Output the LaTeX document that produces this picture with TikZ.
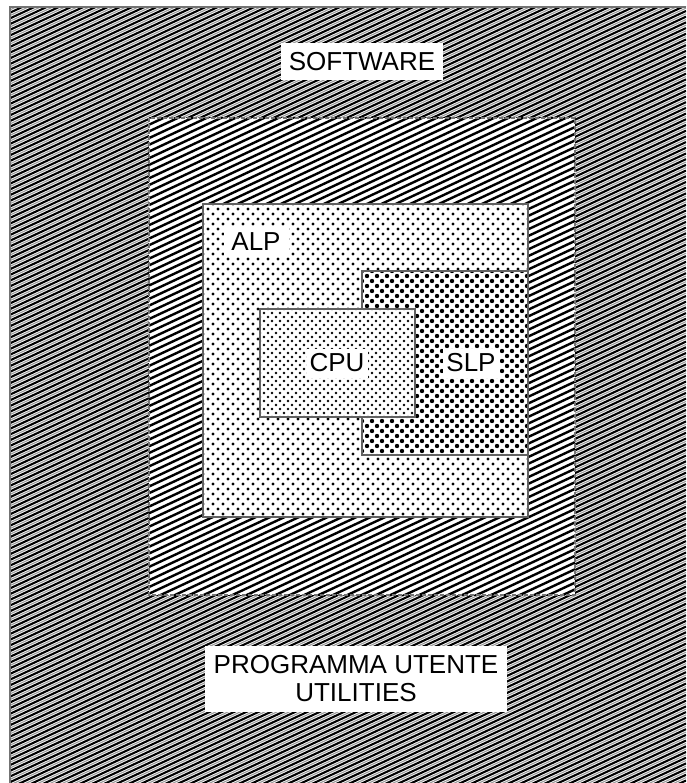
\documentclass[tikz,border=0pt]{standalone}
\usepackage{fontspec}
\setmainfont{Liberation Sans}
\tikzset{
  lbl/.style={fill=white, inner sep=0pt, font=\fontsize{26}{28}\selectfont, text=black},
  boxedge/.style={draw=black!62, line width=2.8pt},
}
% hatch field: x0,y0,x1,y1,vertical period,line width,colour,offset  (lines rising at 25 deg)
\newcommand\hatchfield[8]{%
  \begin{scope}
    \clip (#1,#2) rectangle (#3,#4);
    \pgfmathtruncatemacro\nh{(#4-#2+0.4663*(#3-#1))/#5+1}
    \foreach \i in {0,...,\nh} {
      \pgfmathsetmacro\hb{#2+#8+\i*#5}
      \draw[#7, line width=#6] (#1,\hb) -- (#3,\hb-0.4663*#3+0.4663*#1);
    }
  \end{scope}}
% dot field: x0,y0,x1,y1,in-row spacing,radius (45 deg halftone)
\newcommand\dotfield[6]{%
  \begin{scope}
    \clip (#1,#2) rectangle (#3,#4);
    \pgfmathtruncatemacro\nx{(#3-#1)/#5}
    \pgfmathtruncatemacro\ny{(#4-#2)/#5}
    \foreach \ii in {0,...,\nx} {
      \foreach \jj in {0,...,\ny} {
        \fill[black] ({#1+\ii*#5},{#2+\jj*#5}) circle (#6);
        \fill[black] ({#1+\ii*#5+#5/2},{#2+\jj*#5+#5/2}) circle (#6);
      }
    }
  \end{scope}}
\begin{document}
\begin{tikzpicture}[x=1pt,y=-1pt]
\useasboundingbox (0,0) rectangle (686,783);
\fill[white] (0,0) rectangle (686,783);
% outer region
\hatchfield{10}{7}{686}{783}{5.7}{2.1pt}{black}{0}
\hatchfield{10}{7}{686}{783}{5.7}{1.1pt}{black!40}{2.85}
\draw[black!55, line width=1.8pt] (10,783) -- (10,7) -- (686,7);
% middle region
\fill[white] (149,118) rectangle (575,595);
\hatchfield{149}{118}{575}{595}{6.7}{2.4pt}{black}{0}
\draw[black!55, line width=2.2pt, dash pattern=on 4pt off 2pt] (149,118) rectangle (575,595);
% ALP
\fill[white] (203,204) rectangle (528,517);
\dotfield{203}{204}{528}{517}{10}{1.7pt}
% SLP
\fill[white] (362,271) rectangle (528,455);
\dotfield{362}{271}{528}{455}{10}{2.2pt}
\draw[boxedge] (362,271) rectangle (528,455);
% ALP border
\draw[boxedge] (203,204) rectangle (528,517);
% CPU
\fill[white] (260,309) rectangle (415,417);
\dotfield{260}{309}{415}{417}{8}{1.3pt}
\draw[boxedge] (260,309) rectangle (415,417);
% labels
\node[lbl, minimum width=162pt, minimum height=37pt] (software) at (362,61.5) {SOFTWARE};
\node[lbl, minimum width=65pt, minimum height=30pt] (alp) at (256,242) {ALP};
\node[lbl, minimum width=61pt, minimum height=29pt] (cpu) at (337,363) {CPU};
\node[lbl, minimum width=57pt, minimum height=29pt] (slp) at (471,363) {SLP};
\node[lbl, align=center, minimum width=302pt, minimum height=66pt] (user) at (356,679) {PROGRAMMA UTENTE\\UTILITIES};
\end{tikzpicture}
\end{document}
